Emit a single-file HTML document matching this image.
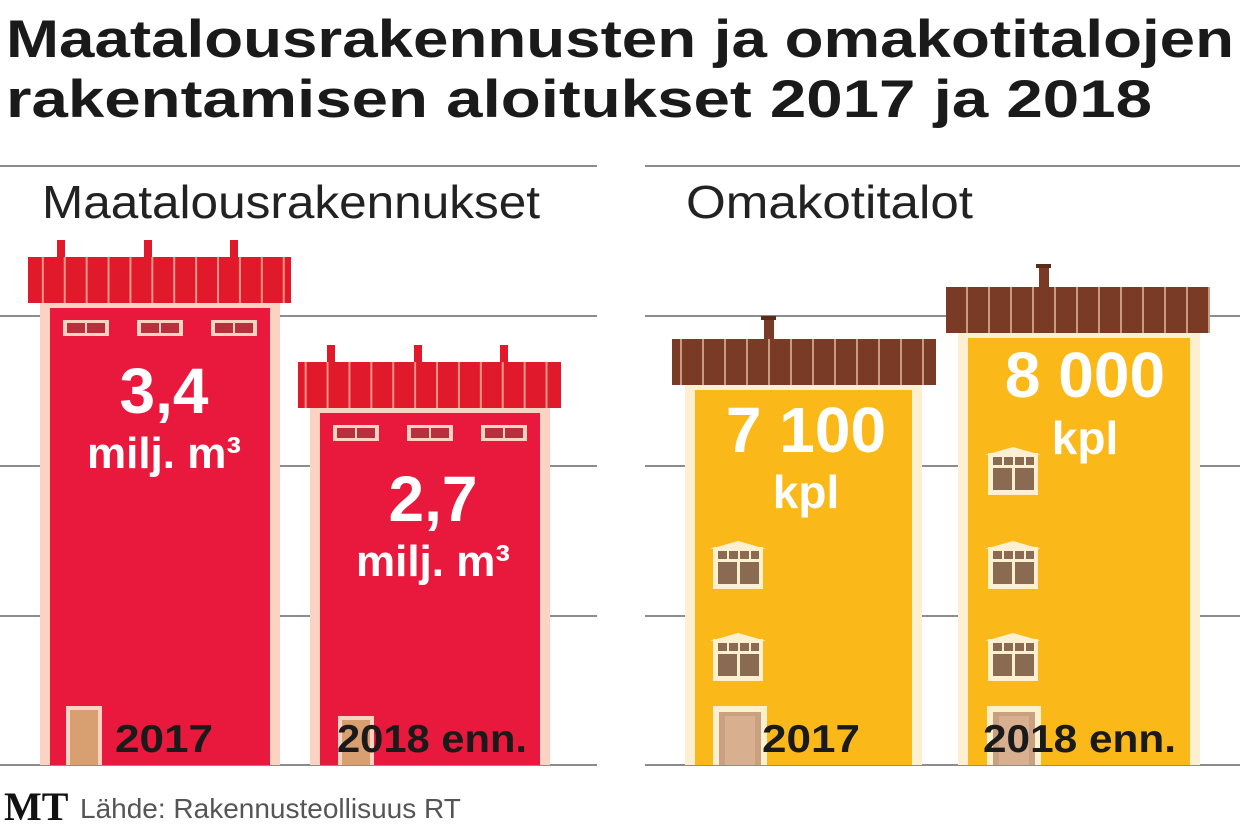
<!DOCTYPE html><html><head><style>body{margin:0;background:#fff}svg{display:block}</style></head><body>
<svg width="1240" height="832" xmlns="http://www.w3.org/2000/svg" font-family="Liberation Sans, DejaVu Sans, sans-serif">
<text x="6" y="57" font-size="53" font-weight="bold" fill="#1a1a1a" textLength="1228" lengthAdjust="spacingAndGlyphs">Maatalousrakennusten ja omakotitalojen</text>
<text x="6" y="117" font-size="53" font-weight="bold" fill="#1a1a1a" textLength="1146" lengthAdjust="spacingAndGlyphs">rakentamisen aloitukset 2017 ja 2018</text>
<g stroke="#666" stroke-width="1.5">
<line x1="0" y1="166" x2="597" y2="166"/><line x1="645" y1="166" x2="1240" y2="166"/>
<line x1="0" y1="316" x2="597" y2="316"/><line x1="645" y1="316" x2="1240" y2="316"/>
<line x1="0" y1="466" x2="597" y2="466"/><line x1="645" y1="466" x2="1240" y2="466"/>
<line x1="0" y1="616" x2="597" y2="616"/><line x1="645" y1="616" x2="1240" y2="616"/>
<line x1="0" y1="765" x2="597" y2="765"/><line x1="645" y1="765" x2="1240" y2="765"/>
</g>
<text x="42" y="218" font-size="46" fill="#222" textLength="498" lengthAdjust="spacingAndGlyphs">Maatalousrakennukset</text>
<text x="686" y="218" font-size="46" fill="#222" textLength="287" lengthAdjust="spacingAndGlyphs">Omakotitalot</text>
<defs>
<pattern id="rr" width="21.9" height="46" patternUnits="userSpaceOnUse"><rect width="21.9" height="46" fill="#e01a2a"/><rect x="20" width="2.5" height="46" fill="#f39a8c"/></pattern>
<pattern id="br" width="22" height="46" patternUnits="userSpaceOnUse"><rect width="22" height="46" fill="#7a3b26"/><rect x="20" width="2.5" height="46" fill="#c99a80"/></pattern>
<g id="rw"><rect width="46" height="16" fill="#fbd3c3"/><rect x="4" y="3" width="18" height="10" fill="#b8303e"/><rect x="24" y="3" width="18" height="10" fill="#b8303e"/></g>
<g id="yw"><polygon points="0,8 28,0 56,8" fill="#fdf0d0"/><rect x="3" y="6" width="50" height="42" fill="#fdf0d0"/><rect x="8" y="10" width="9" height="8" fill="#8a6a50"/><rect x="19" y="10" width="9" height="8" fill="#8a6a50"/><rect x="30" y="10" width="9" height="8" fill="#8a6a50"/><rect x="41" y="10" width="8" height="8" fill="#8a6a50"/><rect x="8" y="21" width="19" height="22" fill="#8a6a50"/><rect x="30" y="21" width="19" height="22" fill="#8a6a50"/></g>
<g id="door"><rect width="54" height="59" fill="#fdf0d0"/><rect x="6" y="6" width="42" height="53" fill="#c9a080"/><rect x="12" y="10" width="30" height="49" fill="#d8b090"/></g>
</defs>
<rect x="57" y="240" width="8" height="18" fill="#e01a2a"/><rect x="144" y="240" width="8" height="18" fill="#e01a2a"/><rect x="230" y="240" width="8" height="18" fill="#e01a2a"/>
<rect x="28" y="257" width="263" height="46" fill="url(#rr)"/>
<rect x="40" y="303" width="240" height="462" fill="#fbd3c3"/><rect x="50" y="308" width="220" height="457" fill="#e8193c"/>
<use href="#rw" x="63" y="320"/><use href="#rw" x="137" y="320"/><use href="#rw" x="211" y="320"/>
<g transform="translate(66,706)"><rect width="36" height="59" fill="#fbd3c3"/><rect x="4" y="4" width="28" height="55" fill="#d8a070"/></g>
<rect x="327" y="345" width="8" height="18" fill="#e01a2a"/><rect x="414" y="345" width="8" height="18" fill="#e01a2a"/><rect x="500" y="345" width="8" height="18" fill="#e01a2a"/>
<rect x="298" y="362" width="263" height="46" fill="url(#rr)"/>
<rect x="310" y="408" width="240" height="357" fill="#fbd3c3"/><rect x="320" y="413" width="220" height="352" fill="#e8193c"/>
<use href="#rw" x="333" y="425"/><use href="#rw" x="407" y="425"/><use href="#rw" x="481" y="425"/>
<g transform="translate(338,716)"><rect width="36" height="49" fill="#fbd3c3"/><rect x="4" y="4" width="28" height="45" fill="#d8a070"/></g>
<rect x="761" y="316" width="15" height="4" fill="#5a2a1a"/><rect x="764" y="320" width="10" height="20" fill="#7a3b26"/>
<rect x="672" y="339" width="264" height="46" fill="url(#br)"/>
<rect x="685" y="385" width="237" height="380" fill="#fdf0d0"/><rect x="695" y="390" width="217" height="375" fill="#fbb819"/>
<use href="#yw" x="710" y="541"/><use href="#yw" x="710" y="633"/><use href="#door" x="713" y="706"/>
<rect x="1036" y="264" width="15" height="4" fill="#5a2a1a"/><rect x="1039" y="268" width="10" height="20" fill="#7a3b26"/>
<rect x="946" y="287" width="264" height="46" fill="url(#br)"/>
<rect x="958" y="333" width="242" height="432" fill="#fdf0d0"/><rect x="968" y="338" width="222" height="427" fill="#fbb819"/>
<use href="#yw" x="985" y="447"/><use href="#yw" x="985" y="541"/><use href="#yw" x="985" y="633"/><use href="#door" x="987" y="706"/>
<g fill="#fff" font-weight="bold" text-anchor="middle">
<text x="164" y="413" font-size="64">3,4</text><text x="164" y="468" font-size="44">milj. m³</text>
<text x="433" y="521" font-size="64">2,7</text><text x="433" y="576" font-size="44">milj. m³</text>
<text x="806" y="452" font-size="64">7 100</text><text x="806" y="508" font-size="46">kpl</text>
<text x="1085" y="397" font-size="64">8 000</text><text x="1085" y="454" font-size="46">kpl</text>
</g>
<g fill="#1a1a1a" font-size="39" font-weight="bold">
<text x="115" y="752" textLength="98" lengthAdjust="spacingAndGlyphs">2017</text><text x="337" y="752" textLength="190" lengthAdjust="spacingAndGlyphs">2018 enn.</text>
<text x="762" y="752" textLength="98" lengthAdjust="spacingAndGlyphs">2017</text><text x="983" y="752" textLength="193" lengthAdjust="spacingAndGlyphs">2018 enn.</text>
</g>
<text x="4" y="820" font-family="Liberation Serif, serif" font-weight="bold" font-size="40" fill="#111">MT</text>
<text x="80" y="818" font-size="28" fill="#555">Lähde: Rakennusteollisuus RT</text>
</svg>
</body></html>
